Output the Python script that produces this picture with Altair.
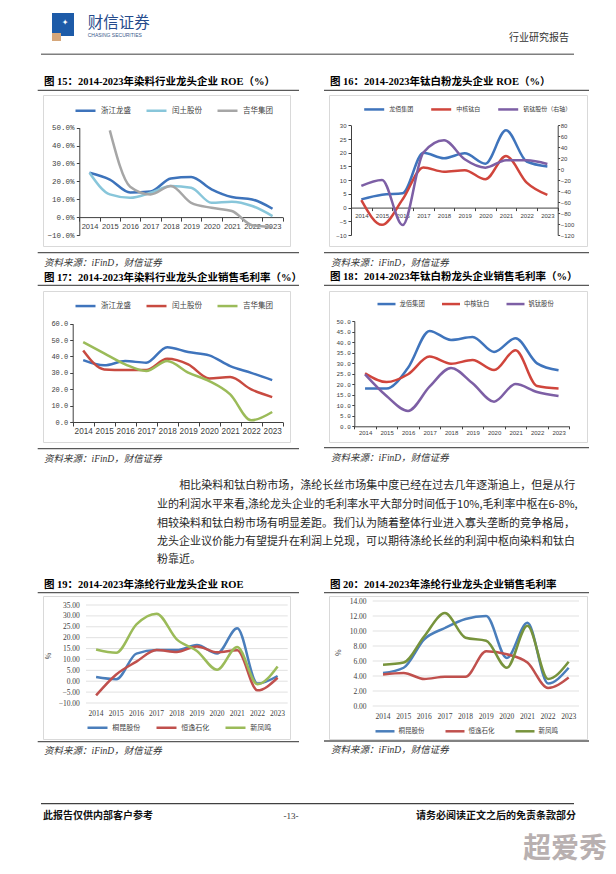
import altair as alt
import pandas as pd

YEARS = list(range(2014, 2024))

# ---- Fig 15: dye leaders ROE (%)
F15_NAMES = ["浙江龙盛", "闰土股份", "吉华集团"]
F15_ZJLS = [24.8, 21.0, 13.8, 14.3, 21.6, 22.4, 15.5, 11.2, 9.9, 4.7]
F15_RTGF = [24.8, 12.7, 10.8, 13.6, 17.4, 16.4, 8.0, 8.6, 6.2, 0.6]
F15_JHJT = [None, 48.5, 17.0, 12.7, 17.4, 8.0, 5.2, 3.4, -4.5, -5.5]
F15_TICKS = [-10, 0, 10, 20, 30, 40, 50]

# ---- Fig 16: TiO2 leaders ROE (%)
F16_NAMES = ["龙佰集团", "中核钛白", "钒钛股份（右轴）"]
F16_LB = [3.0, 4.7, 5.2, 20.0, 18.0, 19.8, 16.0, 28.2, 16.8, 15.0]
F16_ZH = [2.7, -6.3, 3.0, 14.6, 13.1, 13.6, 10.3, 18.8, 9.1, 4.6]
F16_FT = [-30.6, -19.7, -101.8, 30.2, 52.6, 18.0, 2.8, 16.2, 16.2, 9.5]
F16_LEFT_TICKS = [-10, -5, 0, 5, 10, 15, 20, 25, 30]
F16_RIGHT_TICKS = [-120, -100, -80, -60, -40, -20, 0, 20, 40, 60, 80]

# ---- Fig 17: dye leaders gross margin (%)
F17_NAMES = ["浙江龙盛", "闰土股份", "吉华集团"]
F17_ZJLS = [37.8, 34.6, 37.2, 36.2, 45.7, 42.7, 40.7, 34.1, 30.0, 25.6]
F17_RTGF = [43.7, 32.1, 31.7, 31.7, 38.6, 35.2, 26.6, 27.4, 19.9, 15.2]
F17_JHJT = [48.8, 41.9, 35.2, 31.1, 37.2, 30.1, 25.0, 16.9, 1.0, 6.1]
F17_TICKS = [0, 10, 20, 30, 40, 50, 60]

# ---- Fig 18: TiO2 leaders gross margin (%)
F18_NAMES = ["龙佰集团", "中核钛白", "钒钛股份"]
F18_LB = [18.0, 17.9, 27.8, 45.3, 41.0, 42.4, 35.3, 41.8, 29.9, 26.6]
F18_ZH = [25.2, 21.0, 24.7, 33.1, 29.7, 31.5, 26.7, 36.1, 19.1, 17.9]
F18_FT = [24.7, 14.4, 7.3, 18.8, 27.7, 20.4, 11.7, 20.1, 16.3, 14.4]
F18_TICKS = [0, 5, 10, 15, 20, 25, 30, 35, 40, 45, 50]

# ---- Fig 19: polyester leaders ROE
F19_NAMES = ["桐昆股份", "恒逸石化", "新凤鸣"]
F19_TK = [1.9, 0.9, 12.7, 14.3, 14.3, 16.6, 12.7, 24.3, -1.1, 2.4]
F19_HY = [-6.5, 3.1, 9.0, 14.3, 13.4, 16.0, 13.3, 14.2, -4.2, 1.6]
F19_XFM = [14.6, 13.1, 26.1, 31.0, 19.2, 13.9, 5.3, 15.7, -1.4, 6.8]
F19_TICKS = [-10, -5, 0, 5, 10, 15, 20, 25, 30, 35]

# ---- Fig 20: polyester leaders gross margin
F20_NAMES = ["桐昆股份", "恒逸石化", "新凤鸣"]
F20_TK = [4.4, 5.1, 8.9, 10.4, 11.6, 12.0, 6.4, 11.1, 3.0, 5.1]
F20_HY = [4.2, 4.4, 3.6, 3.9, 3.9, 7.3, 6.9, 5.8, 2.4, 3.8]
F20_XFM = [5.5, 5.8, 9.3, 12.4, 9.1, 8.7, 5.1, 10.7, 3.6, 5.9]
F20_TICKS = [0, 2, 4, 6, 8, 10, 12, 14]

PARAGRAPH = [
    "相比染料和钛白粉市场，涤纶长丝市场集中度已经在过去几年逐渐追上，但是从行",
    "业的利润水平来看,涤纶龙头企业的毛利率水平大部分时间低于10%,毛利率中枢在6-8%,",
    "相较染料和钛白粉市场有明显差距。我们认为随着整体行业进入寡头垄断的竞争格局，",
    "龙头企业议价能力有望提升在利润上兑现，可以期待涤纶长丝的利润中枢向染料和钛白",
    "粉靠近。",
]
SOURCE = "资料来源：iFinD，财信证券"

CJK = "Noto Sans CJK SC"
SERIF = "Liberation Serif, Noto Sans CJK SC"
SANS = "Liberation Sans"
MONO = "Liberation Mono"
ONE = [{"k": 0}]
AXC = "#404040"


def frame(names, series):
    rows = []
    for name, vals in zip(names, series):
        for yr, v in zip(YEARS, vals):
            if v is not None:
                rows.append({"year": yr, "series": name, "value": v})
    return pd.DataFrame(rows)


def txt(s, x, y, size, color="#222222", weight="normal", font=CJK, align="left",
        style="normal", angle=0, baseline="middle"):
    return alt.Chart(alt.Data(values=ONE)).mark_text(
        text=s, fontSize=size, color=color, fontWeight=weight, font=font, align=align,
        fontStyle=style, angle=angle, baseline=baseline
    ).encode(x=alt.value(x), y=alt.value(y))


def rule(x1, x2, y1, y2, color, w):
    return alt.Chart(alt.Data(values=ONE)).mark_rule(color=color, strokeWidth=w).encode(
        x=alt.value(x1), x2=alt.value(x2), y=alt.value(y1), y2=alt.value(y2))


def box(x1, x2, y1, y2, color):
    return alt.Chart(alt.Data(values=ONE)).mark_rect(color=color).encode(
        x=alt.value(x1), x2=alt.value(x2), y=alt.value(y1), y2=alt.value(y2))


def xaxis(offset, size, font, pad, tick=4, ticks=True, domain=True):
    kw = dict(title=None, orient="bottom", offset=offset, labelAngle=0, labelFontSize=size,
              labelFont=font, labelColor=AXC, labelPadding=pad, domain=domain, ticks=ticks,
              domainColor=AXC, tickColor=AXC, grid=False, labelOverlap=False)
    if ticks:
        kw.update(tickSize=tick, tickBand="extent")
    return alt.Axis(**kw)


def yaxis(offset, values, expr, size, font, pad, orient="left", tick=3, ticks=True, domain=True):
    kw = dict(title=None, orient=orient, offset=offset, values=values, labelExpr=expr,
              labelFontSize=size, labelFont=font, labelColor=AXC, labelPadding=pad,
              domain=domain, ticks=ticks, domainColor=AXC, tickColor=AXC, grid=False,
              labelOverlap=False)
    if ticks:
        kw.update(tickSize=tick)
    return alt.Axis(**kw)


def legend(x, y, size, sym, offset, pad, stroke=2.5):
    return alt.Legend(title=None, orient="none", legendX=x, legendY=y, direction="horizontal",
                      symbolType="stroke", symbolSize=sym * sym, symbolStrokeWidth=stroke,
                      labelFontSize=size, labelFont=CJK, labelColor="#404040",
                      labelOffset=offset, columnPadding=pad, padding=0, labelLimit=300)


def xenc(xr, axis):
    return alt.X("year:O", bandPosition=0.5,
                 scale=alt.Scale(type="band", range=xr, paddingInner=0, paddingOuter=0),
                 axis=axis)


def lines(df, names, colors, x_enc, ydom, yr, yax, leg, sw=2.5, field="value"):
    return alt.Chart(df).mark_line(interpolate="monotone", strokeWidth=sw).encode(
        x=x_enc,
        y=alt.Y(f"{field}:Q", scale=alt.Scale(domain=ydom, range=yr, nice=False, zero=False),
                axis=yax),
        color=alt.Color("series:N", scale=alt.Scale(domain=names, range=colors), legend=leg),
    )


def decor(title, ty, lx1, lx2, uy, sy, sx, sty):
    return [
        txt(title, 1, ty, 10.5, "#000000", "bold", SERIF),
        rule(lx1, lx2, uy, uy, "#595959", 1.3),
        rule(lx1, lx2, sy, sy, "#595959", 1.3),
        txt(SOURCE, sx, sty, 9.5, "#333333", style="italic", font=SERIF),
    ]


VIEW = alt.ViewBackground(stroke="#d9d9d9", strokeWidth=1, fill="white")
W0, W1 = 247, 258

# ---------------- Fig 15 (cell origin = page 42,94)
df15 = frame(F15_NAMES, [F15_ZJLS, F15_RTGF, F15_JHJT])
x15 = xenc([36.3, 239.7], xaxis(-28.9, 7.5, SANS, 1.2))
l15 = lines(df15, F15_NAMES, ["#3d73bb", "#88c6da", "#a6a6a6"], x15, [-10, 50], [140, 32.7],
            yaxis(-36.3, F15_TICKS, "format(datum.value, '.1f') + '%'", 7.5, MONO, 2.3),
            legend(31, 4, 7.5, 20, 4, 10))
c15 = alt.layer(
    rule(-34, -33.5, -86, -86, "white", 0.3),
    box(9, 31, -82, -59, "#1d5ba8"),
    box(9, 18, -62, -54, "#d6a77a"),
    txt("✦", 22, -72, 8, "white", font="DejaVu Sans", align="center"),
    txt("财信证券", 44.7, -72.3, 15.5, "#264b8c"),
    txt("CHASING SECURITIES", 44.7, -59.7, 5, "#3a5a8c", font=SANS),
    txt("行业研究报告", 526, -57, 10, "#333333", align="right"),
    rule(-2, 531, -40.7, -40.7, "#7f7f7f", 1.5),
    *decor("图 15：2014-2023年染料行业龙头企业 ROE（%）", -13, -5.3, 256, -4.7, 157.7, 1, 167.7),
    l15,
).properties(width=W0, height=151, view=VIEW)

# ---------------- Fig 16 (origin 328,94)
df16a = frame(F16_NAMES[:2], [F16_LB, F16_ZH])
df16b = frame(F16_NAMES[2:], [F16_FT])
C16 = ["#3f74bc", "#d0453c", "#7d5fa5"]
x16 = xenc([22, 228.7], xaxis(-38.4, 6, SANS, 1.4, tick=3))
leg16 = legend(33.7, 2.7, 6, 20, 3.5, 12)
l16a = lines(df16a, F16_NAMES, C16, x16, [-10, 30], [140, 30.3],
             yaxis(-22, F16_LEFT_TICKS, "format(datum.value, 'd')", 6, SANS, 2), leg16)
l16b = lines(df16b, F16_NAMES, C16, x16, [-120, 80], [140, 30.3],
             yaxis(228.7 - W1, F16_RIGHT_TICKS, "format(datum.value, 'd')", 6, SANS, 0.5,
                   orient="right", tick=2), leg16)
c16 = alt.layer(
    *decor("图 16：2014-2023年钛白粉龙头企业 ROE（%）", -13, -5, 260, -4.7, 157.7, 2, 167.7),
    l16a, l16b,
).resolve_scale(y="independent").properties(width=W1, height=151, view=VIEW)

# ---------------- Fig 17 (origin 42,290)
df17 = frame(F17_NAMES, [F17_ZJLS, F17_RTGF, F17_JHJT])
x17 = xenc([29.7, 239.7], xaxis(-20, 8.2, SANS, 1.6))
l17 = lines(df17, F17_NAMES, ["#3f74bc", "#c84a40", "#9bbb59"], x17, [0, 60], [131, 32.7],
            yaxis(-29.7, F17_TICKS, "format(datum.value, '.1f')", 7, MONO, 2),
            legend(31, 3.3, 7.5, 20, 4, 10))
c17 = alt.layer(
    *decor("图 17：2014-2023年染料行业龙头企业销售毛利率（%）", -13.3, -5.3, 256, -5.7, 157.7, 1, 167.7),
    l17,
).properties(width=W0, height=151, view=VIEW)

# ---------------- Fig 18 (origin 328,290)
df18 = frame(F18_NAMES, [F18_LB, F18_ZH, F18_FT])
x18 = xenc([25.3, 240.3], xaxis(-15.7, 6, SANS, 0.9, tick=2.5))
l18 = lines(df18, F18_NAMES, ["#3f74bc", "#d0453c", "#7d5fa5"], x18, [0, 50], [135.3, 30],
            yaxis(-25.3, F18_TICKS, "format(datum.value, '.1f')", 6, MONO, 1.5, tick=2.5),
            legend(47, 2.3, 6.3, 18, 2.5, 11.5))
c18 = alt.layer(
    *decor("图 18：2014-2023年钛白粉龙头企业销售毛利率（%）", -14.3, -5, 260, -5.7, 156.7, 2, 166.7),
    l18,
).properties(width=W1, height=151, view=VIEW)

# ---------------- paragraph spacer row (origin 42,486)
spL = alt.layer(
    txt(PARAGRAPH[0], 136.3, -1, 11, "#262626"),
    txt(PARAGRAPH[1], 114, 18, 11, "#262626"),
    txt(PARAGRAPH[2], 114, 36.7, 11, "#262626"),
    txt(PARAGRAPH[3], 114, 55, 11, "#262626"),
    txt(PARAGRAPH[4], 114, 73.3, 11, "#262626"),
).properties(width=W0, height=64)
spR = txt("", 0, 0, 8).properties(width=W1, height=64)

# ---------------- Fig 19 (origin 42,595)
df19 = frame(F19_NAMES, [F19_TK, F19_HY, F19_XFM])
x19 = xenc([43, 244.7], xaxis(107 - 143, 7.5, SERIF, 6, ticks=False, domain=False))
y19ax = yaxis(-43, F19_TICKS, "format(datum.value, '.2f')", 7.5, SERIF, 6.7, ticks=False, domain=False)
grid19 = alt.Chart(pd.DataFrame({"v": F19_TICKS})).mark_rule(color="#d9d9d9", strokeWidth=0.8).encode(
    y=alt.Y("v:Q", scale=alt.Scale(domain=[-10, 35], range=[107, 9], nice=False, zero=False), axis=y19ax),
    x=alt.value(43), x2=alt.value(244.7))
l19 = lines(df19, F19_NAMES, ["#4a7ebb", "#c0504d", "#9bbb59"], x19, [-10, 35], [107, 9], y19ax,
            legend(43, 120, 7, 20, 3.3, 10))
c19 = alt.layer(
    *decor("图 19：2014-2023年涤纶行业龙头企业 ROE", -11, -5.3, 256, -3.3, 145.7, 1, 155),
    txt("%", 6.3, 60, 7, "#404040", angle=270, align="center"),
    grid19, l19,
    rule(-2, 531, 207.7, 207.7, "#404040", 1.3),
    txt("此报告仅供内部客户参考", 0, 220, 10, "#111111", "bold"),
    txt("-13-", 248, 220, 9, "#333333", font=SERIF, align="center"),
    txt("请务必阅读正文之后的免责条款部分", 533, 220, 10, "#111111", "bold", align="right"),
    txt("超爱秀", 564, 254, 28, "#b8b0b0", "bold", align="right"),
).properties(width=W0, height=143, view=VIEW)

# ---------------- Fig 20 (origin 328,595)
df20 = frame(F20_NAMES, [F20_TK, F20_HY, F20_XFM])
x20 = xenc([43.7, 250], xaxis(110 - 143, 7.5, SERIF, 6.2, ticks=False, domain=False))
y20ax = yaxis(-43.7, F20_TICKS, "format(datum.value, '.2f')", 7.5, SERIF, 6.7, ticks=False, domain=False)
grid20 = alt.Chart(pd.DataFrame({"v": F20_TICKS})).mark_rule(color="#d9d9d9", strokeWidth=0.8).encode(
    y=alt.Y("v:Q", scale=alt.Scale(domain=[0, 14], range=[110, 5], nice=False, zero=False), axis=y20ax),
    x=alt.value(43.7), x2=alt.value(250))
l20 = lines(df20, F20_NAMES, ["#4a7ebb", "#c0504d", "#77933c"], x20, [0, 14], [110, 5], y20ax,
            legend(45, 124.3, 6.5, 19, 2.5, 15))
c20 = alt.layer(
    *decor("图 20：2014-2023年涤纶行业龙头企业销售毛利率", -11, -5, 260, -3.3, 145, 2, 154.3),
    txt("%", 10.3, 56.7, 7, "#404040", angle=270, align="center"),
    grid20, l20,
).properties(width=W1, height=143, view=VIEW)

chart = alt.concat(
    c15, c16, c17, c18, spL, spR, c19, c20,
    columns=2,
    spacing=alt.RowColnumber(row=45, column=39),
    bounds="flush",
    align="each",
).resolve_scale(color="independent", x="independent", y="independent").properties(
    padding=0, background="white").configure_view(stroke="transparent")

chart.save("out.html", embed_options={"renderer": "svg", "actions": False})
